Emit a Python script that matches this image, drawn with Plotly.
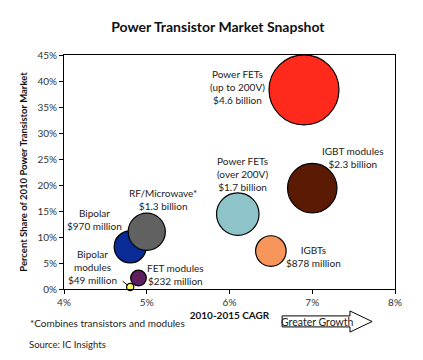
import plotly.graph_objects as go

segments = ["Power FETs (up to 200V)", "IGBT modules", "Power FETs (over 200V)", "IGBTs",
            "Bipolar", "RF/Microwave*", "FET modules", "Bipolar modules"]
cagr = [6.9, 7.0, 6.1, 6.5, 4.8, 5.0, 4.9, 4.8]
share = [38.3, 19.4, 14.4, 7.3, 8.1, 11.0, 2.1, 0.4]
revenue_b = [4.6, 2.3, 1.7, 0.878, 0.97, 1.3, 0.232, 0.049]
colors = ["#FF2A1C", "#5A1A04", "#8EC4C9", "#F8955A", "#0A2A96", "#616161", "#5F1F5E", "#FFFF66"]
labels = ["Power FETs<br>(up to 200V)<br>$4.6 billion", "IGBT modules<br>$2.3 billion",
          "Power FETs<br>(over 200V)<br>$1.7 billion", "IGBTs<br>$878 million",
          "Bipolar<br>$970 million", "RF/Microwave*<br>$1.3 billion",
          "FET modules<br>$232 million", "Bipolar<br>modules<br>$49 million"]
label_x = [6.1, 7.49, 6.16, 7.01, 4.37, 5.2, 5.35, 4.34]
label_y = [38.8, 25.2, 22.1, 6.3, 13.3, 17.3, 2.7, 4.2]
x_ticks = [4, 5, 6, 7, 8]
y_ticks = [0, 5, 10, 15, 20, 25, 30, 35, 40, 45]

FONT = "Lato, 'Open Sans', sans-serif"

fig = go.Figure()
fig.add_trace(go.Scatter(
    x=cagr, y=share, mode="markers", cliponaxis=False,
    marker=dict(size=revenue_b, sizemode="area", sizeref=0.00188,
                color=colors, opacity=1, line=dict(color="black", width=1.2)),
    hovertext=segments, showlegend=False))

for t, lx, ly in zip(labels, label_x, label_y):
    fig.add_annotation(x=lx, y=ly, xref="x", yref="y", text=t, showarrow=False,
                       font=dict(size=10, color="#222222", family=FONT), align="center")

# leader line for Bipolar modules
fig.add_shape(type="line", xref="x", yref="y", x0=4.71, y0=1.5, x1=4.77, y1=0.7,
              line=dict(color="black", width=1))

# Greater Growth arrow
fig.add_shape(type="path", xref="paper", yref="paper",
              path="M 0.659 -0.115 L 0.864 -0.115 L 0.864 -0.094 L 0.931 -0.139 L 0.864 -0.184 L 0.864 -0.162 L 0.659 -0.162 Z",
              line=dict(color="black", width=1), fillcolor="white")
fig.add_annotation(x=0.765, y=-0.139, xref="paper", yref="paper", text="Greater Growth",
                   xanchor="center", yanchor="middle",
                   showarrow=False, font=dict(size=10.5, color="#222222", family=FONT))

fig.add_annotation(x=-0.11, y=-0.145, xref="paper", yref="paper", xanchor="left", yanchor="middle",
                   text="*Combines transistors and modules", showarrow=False,
                   font=dict(size=10, color="#222222", family=FONT))
fig.add_annotation(x=-0.113, y=-0.238, xref="paper", yref="paper", xanchor="left", yanchor="middle",
                   text="Source: IC Insights", showarrow=False,
                   font=dict(size=9.5, color="#222222", family=FONT))

fig.update_layout(
    width=423, height=360,
    margin=dict(l=64, r=28, t=55, b=71),
    paper_bgcolor="white", plot_bgcolor="white",
    title=dict(text="<b>Power Transistor Market Snapshot</b>", x=0.515, xanchor="center",
               y=0.925, yanchor="middle", font=dict(size=14, color="#111111", family=FONT)),
    xaxis=dict(range=[4, 8], tickvals=x_ticks, ticktext=[f"{v}%" for v in x_ticks],
               showgrid=False, zeroline=False, showline=True, linecolor="black", linewidth=1,
               mirror=True, ticks="outside", ticklen=4, tickcolor="black",
               tickfont=dict(size=10, color="#333333", family=FONT),
               title=dict(text="<b>2010-2015 CAGR</b>", standoff=4,
                          font=dict(size=10, color="#111111", family=FONT))),
    yaxis=dict(range=[0, 45], tickvals=y_ticks, ticktext=[f"{v}%" for v in y_ticks],
               showgrid=False, zeroline=False, showline=True, linecolor="black", linewidth=1,
               mirror=True, ticks="outside", ticklen=4, tickcolor="black",
               tickfont=dict(size=10, color="#333333", family=FONT),
               title=dict(text="<b>Percent Share of 2010 Power Transistor Market</b>", standoff=8,
                          font=dict(size=9.5, color="#111111", family=FONT))),
)

fig.write_html("out.html", config={"displayModeBar": False},
               post_script="document.body.style.margin='0';")
